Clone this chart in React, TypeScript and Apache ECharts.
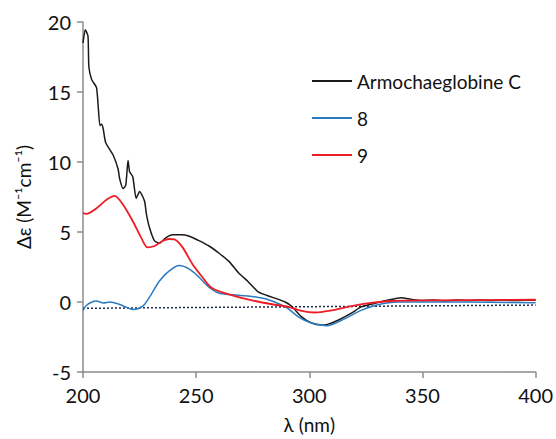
import React, { useEffect, useRef } from "react";
import * as echarts from "echarts";

const armoX = [200, 201, 202.2, 202.6, 203.8, 206, 207.5, 208.2, 208.9, 210, 213.3, 215.5, 216.2, 217.7, 218.9, 219.9, 220.6, 222, 223.5, 225, 227.2, 228, 229.4, 231.6, 233.8, 236.7, 239.6, 243.3, 247, 251, 255.7, 260, 264.5, 268.9, 273, 277.6, 283.5, 289.3, 292.2, 296.6, 301, 305, 308, 312.7, 318.6, 322.9, 328.8, 334.6, 340.5, 344.9, 350, 355, 360, 365, 370, 375, 380, 385, 390, 395, 400];
const armoY = [18.5, 19.45, 19.0, 16.8, 15.9, 15.3, 12.6, 12.7, 12.4, 11.4, 10.5, 9.5, 8.8, 8.1, 8.35, 10.1, 9.3, 8.95, 7.4, 7.9, 7.2, 6.3, 5.3, 4.36, 4.2, 4.6, 4.8, 4.8, 4.7, 4.4, 4.0, 3.5, 2.9, 2.05, 1.45, 0.7, 0.35, 0.0, -0.3, -1.06, -1.5, -1.65, -1.6, -1.3, -0.8, -0.35, -0.1, 0.12, 0.3, 0.19, 0.1, 0.15, 0.08, 0.14, 0.1, 0.15, 0.1, 0.14, 0.1, 0.13, 0.12];

const c8X = [200, 201.6, 204, 206, 209, 211.8, 216, 220.6, 222, 226.4, 229.4, 233.8, 238, 242.5, 247, 251.3, 255.7, 260, 266, 274.7, 280.6, 286.4, 290, 295.2, 300, 305.4, 307.6, 311, 315.6, 322.9, 330.3, 339, 350, 359.5, 380, 400];
const c8Y = [-0.6, -0.23, 0.0, 0.07, -0.07, 0.0, -0.16, -0.47, -0.54, -0.3, 0.35, 1.5, 2.2, 2.6, 2.35, 1.77, 1.06, 0.64, 0.52, 0.4, 0.23, -0.12, -0.4, -1.06, -1.45, -1.65, -1.7, -1.55, -1.2, -0.6, -0.19, 0.0, 0.0, 0.0, -0.02, -0.05];

const c9X = [200, 201.6, 206, 210.4, 214, 217.7, 222, 225.7, 228.6, 231.6, 235.2, 238, 240.4, 244, 248.4, 252.8, 257, 266, 274.7, 283.5, 290.8, 296.6, 302.5, 309.8, 318.6, 327.3, 336.1, 352, 400];
const c9Y = [6.35, 6.3, 6.7, 7.3, 7.58, 6.94, 5.77, 4.6, 3.9, 4.0, 4.36, 4.5, 4.47, 3.9, 2.7, 1.77, 1.0, 0.47, 0.12, -0.16, -0.35, -0.64, -0.75, -0.6, -0.3, -0.07, 0.07, 0.12, 0.16];

const baseX = [200, 400];
const baseY = [-0.45, -0.22];

const seriesNames = ["Armochaeglobine C", "8", "9"];
const seriesColors = ["#1a1a1a", "#2a7bbf", "#ee1c25"];

const zip = (xs: number[], ys: number[]) => xs.map((x, i) => [x, ys[i]]);

export default function App() {
  const ref = useRef<HTMLDivElement>(null);
  useEffect(() => {
    document.body.style.margin = "0";
    const chart = echarts.init(ref.current!, null, { renderer: "svg" });
    const font = "Lato, 'Open Sans', sans-serif";
    chart.setOption({
      animation: false,
      textStyle: { fontFamily: font },
      grid: { left: 83, right: 17, top: 22, bottom: 63 },
      legend: {
        data: seriesNames,
        orient: "vertical",
        left: 307,
        top: 65,
        icon: "rect",
        itemWidth: 40,
        itemHeight: 2,
        itemGap: 15,
        itemStyle: { borderWidth: 0 },
        textStyle: { fontSize: 19, color: "#111", fontFamily: font, lineHeight: 22 },
      },
      xAxis: {
        type: "value",
        min: 200,
        max: 400,
        interval: 50,
        name: "λ (nm)",
        nameLocation: "middle",
        nameGap: 43,
        nameTextStyle: { fontSize: 19, color: "#111", fontFamily: font },
        axisLine: { onZero: false, lineStyle: { color: "#8c8c8c", width: 1.5 } },
        axisTick: { lineStyle: { color: "#8c8c8c", width: 1.5 }, length: 6 },
        axisLabel: { fontSize: 20, color: "#111", margin: 13 },
        splitLine: { show: false },
      },
      yAxis: {
        type: "value",
        min: -5,
        max: 20,
        interval: 5,
        name: "Δε (M⁻¹cm⁻¹)",
        nameLocation: "middle",
        nameGap: 50,
        nameTextStyle: { fontSize: 19, color: "#111", fontFamily: font },
        axisLine: { show: true, onZero: false, lineStyle: { color: "#8c8c8c", width: 1.5 } },
        axisTick: { show: true, lineStyle: { color: "#8c8c8c", width: 1.5 }, length: 6 },
        axisLabel: { fontSize: 20, color: "#111", margin: 12 },
        splitLine: { show: false },
      },
      series: [
        {
          name: "baseline",
          type: "line",
          data: zip(baseX, baseY),
          symbol: "none",
          lineStyle: { color: "#1b2a4a", width: 1.5, type: [2, 2] },
          silent: true,
        },
        {
          name: seriesNames[0],
          type: "line",
          data: zip(armoX, armoY),
          symbol: "none",
          smooth: 0.2,
          color: seriesColors[0],
          lineStyle: { color: seriesColors[0], width: 1.5 },
        },
        {
          name: seriesNames[1],
          type: "line",
          data: zip(c8X, c8Y),
          symbol: "none",
          smooth: 0.3,
          color: seriesColors[1],
          lineStyle: { color: seriesColors[1], width: 1.5 },
        },
        {
          name: seriesNames[2],
          type: "line",
          data: zip(c9X, c9Y),
          symbol: "none",
          smooth: 0.3,
          color: seriesColors[2],
          lineStyle: { color: seriesColors[2], width: 1.8 },
        },
      ],
    });
    return () => chart.dispose();
  }, []);
  return <div ref={ref} style={{ width: 556, height: 439 }} />;
}
